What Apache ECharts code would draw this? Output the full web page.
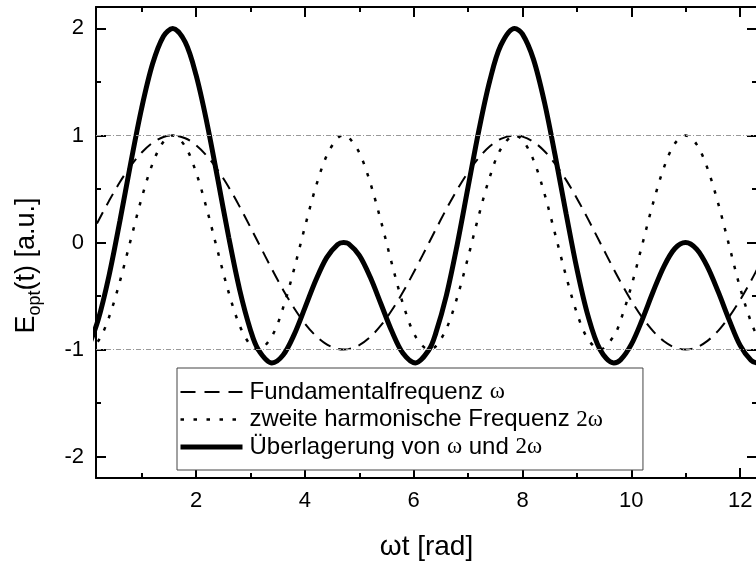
<!DOCTYPE html>
<html>
<head>
<meta charset="utf-8">
<script src="https://cdn.jsdelivr.net/npm/echarts@6/dist/echarts.min.js"></script>
<style>
html,body{margin:0;padding:0;background:#fff;}
#chart{width:756px;height:562px;}
</style>
</head>
<body>
<div id="chart"></div>
<script>
const xValues = [0,0.2,0.4,0.6,0.8,1.0,1.2,1.4,1.571,1.8,2.0,2.2,2.4,2.6,2.8,3.0,3.142,3.394,3.6,3.8,4.0,4.2,4.4,4.6,4.712,4.8,5.0,5.2,5.4,5.6,5.8,6.030,6.283,6.4,6.6,6.8,7.0,7.2,7.4,7.6,7.854,8.0,8.2,8.4,8.6,8.8,9.0,9.2,9.425,9.677,9.8,10.0,10.2,10.4,10.6,10.8,10.996,11.2,11.4,11.6,11.8,12.0,12.2,12.313,12.4,12.6];
// Fundamentalfrequenz ω (dashed)
const fundamental = [0,0.199,0.389,0.565,0.717,0.841,0.932,0.985,1.000,0.974,0.909,0.808,0.675,0.516,0.335,0.141,0.000,-0.250,-0.443,-0.612,-0.757,-0.872,-0.952,-0.994,-1.000,-0.996,-0.959,-0.883,-0.773,-0.631,-0.465,-0.250,0.000,0.117,0.312,0.494,0.657,0.794,0.899,0.968,1.000,0.989,0.941,0.855,0.734,0.585,0.412,0.223,0.000,-0.250,-0.366,-0.544,-0.700,-0.828,-0.923,-0.981,-1.000,-0.979,-0.919,-0.823,-0.693,-0.537,-0.358,-0.250,-0.166,0.034];
// zweite harmonische Frequenz 2ω (dotted)
const harmonic = [-1.000,-0.921,-0.697,-0.362,0.029,0.416,0.737,0.942,1.000,0.897,0.654,0.307,-0.087,-0.468,-0.776,-0.960,-1.000,-0.875,-0.608,-0.251,0.146,0.519,0.811,0.975,1.000,0.985,0.839,0.560,0.196,-0.201,-0.568,-0.875,-1.000,-0.973,-0.807,-0.512,-0.137,0.260,0.615,0.873,1.000,0.958,0.772,0.462,0.078,-0.313,-0.660,-0.901,-1.000,-0.875,-0.732,-0.408,-0.021,0.368,0.701,0.925,1.000,0.917,0.692,0.359,-0.032,-0.424,-0.743,-0.875,-0.946,-0.999];
// Überlagerung von ω und 2ω (thick solid)
const superposition = [-1.000,-0.722,-0.308,0.203,0.746,1.257,1.669,1.927,2.000,1.871,1.563,1.115,0.588,0.048,-0.441,-0.819,-1.000,-1.125,-1.051,-0.863,-0.611,-0.353,-0.141,-0.019,0.000,-0.011,-0.120,-0.323,-0.577,-0.832,-1.033,-1.125,-1.000,-0.856,-0.495,-0.018,0.520,1.054,1.514,1.841,2.000,1.947,1.713,1.317,0.812,0.272,-0.248,-0.678,-1.000,-1.125,-1.098,-0.952,-0.721,-0.460,-0.222,-0.056,0.000,-0.062,-0.227,-0.464,-0.725,-0.961,-1.101,-1.125,-1.112,-0.965];

const seriesNames = ['Fundamentalfrequenz ω','zweite harmonische Frequenz 2ω','Überlagerung von ω und 2ω'];
const xMajorTicks = [2,4,6,8,10,12];
const xMinorTicks = [1,3,5,7,9,11];
const yMajorTicks = [-2,-1,0,1,2];
const yMinorTicks = [-1.5,-0.5,0.5,1.5];
const refLines = [1,-1];
const X_MIN = 0.16, X_MAX = 12.31, Y_MIN = -2.2, Y_MAX = 2.2;

const FONT = '"Liberation Sans", Arial, sans-serif';
const SERIF = '"Liberation Serif", "Times New Roman", serif';

const styles = [
  {width:2, type:[13,8], legendType:[15,9]},
  {width:2.5, type:[3.5,9.5], legendType:[3.5,9.5]},
  {width:5, type:'solid', legendType:'solid'}
];

function pairs(arr){ return xValues.map((x,i)=>[x,arr[i]]); }

function xAxis(pos, ticks, len, main){
  return {
    type:'value', position:pos, min:X_MIN, max:X_MAX,
    axisLine:{show:main, onZero:false, lineStyle:{color:'#000',width:2}},
    axisTick:{show:true, inside:true, length:len, customValues:ticks, lineStyle:{color:'#000',width:2}},
    axisLabel:{show:main && pos==='bottom', customValues:ticks, fontSize:22, fontFamily:FONT, color:'#000', margin:12},
    splitLine:{show:false},
    name: (main && pos==='bottom') ? 'ωt [rad]' : '',
    nameLocation:'middle', nameGap:55,
    nameTextStyle:{fontSize:28, fontFamily:FONT, color:'#000'}
  };
}
function yAxis(pos, ticks, len, main){
  return {
    type:'value', position:pos, min:Y_MIN, max:Y_MAX,
    axisLine:{show:main, onZero:false, lineStyle:{color:'#000',width:2}},
    axisTick:{show:true, inside:true, length:len, customValues:ticks, lineStyle:{color:'#000',width:2}},
    axisLabel:{show:main && pos==='left', customValues:ticks, fontSize:22, fontFamily:FONT, color:'#000', margin:12},
    splitLine:{show:false},
    name: (main && pos==='left') ? '{e|E}{s|opt}{e|(t) [a.u.]}' : '',
    nameLocation:'middle', nameGap:52, nameRotate:90,
    nameTextStyle:{
      fontSize:27, fontFamily:FONT, color:'#000', padding:[0,46,0,0],
      rich:{
        e:{fontSize:27, fontFamily:FONT, color:'#000'},
        s:{fontSize:18, fontFamily:FONT, color:'#000', padding:[16,0,0,0]}
      }
    }
  };
}

const chart = echarts.init(document.getElementById('chart'), null, {renderer:'canvas'});
chart.setOption({
  animation:false,
  backgroundColor:'#fff',
  grid:{left:96, top:7, width:661, height:471, outerBoundsMode:'none', containLabel:false},
  xAxis:[
    xAxis('bottom', xMajorTicks, 10, true),
    xAxis('bottom', xMinorTicks, 5, false),
    xAxis('top', xMajorTicks, 10, true),
    xAxis('top', xMinorTicks, 5, false)
  ],
  yAxis:[
    yAxis('left', yMajorTicks, 10, true),
    yAxis('left', yMinorTicks, 5, false),
    yAxis('right', yMajorTicks, 10, true),
    yAxis('right', yMinorTicks, 5, false)
  ],
  legend:{
    orient:'vertical', left:177, top:368,
    padding:[12,40,11,1], itemGap:3.5,
    itemWidth:62, itemHeight:14,
    backgroundColor:'#fff', borderColor:'#444', borderWidth:1,
    itemStyle:{opacity:0, borderWidth:0},
    data:seriesNames.map((n,i)=>({name:n, lineStyle:{width:styles[i].width, type:styles[i].legendType, color:'#000'}})),
    formatter:function(name){
      const i = seriesNames.indexOf(name);
      if(i===0) return '{t|Fundamentalfrequenz }{g|ω}';
      if(i===1) return '{t|zweite harmonische Frequenz }{g|2ω}';
      return '{t|Überlagerung von }{g|ω}{t| und }{g|2ω}';
    },
    textStyle:{
      color:'#000', fontSize:24, fontFamily:FONT, padding:[0,0,0,2],
      rich:{
        t:{fontSize:24, fontFamily:FONT, color:'#000'},
        g:{fontSize:23, fontFamily:SERIF, color:'#000'}
      }
    }
  },
  series:[
    {
      name:seriesNames[0], type:'line', data:pairs(fundamental), smooth:0.33, symbol:'none',
      lineStyle:{color:'#000', width:styles[0].width, type:styles[0].type},
      itemStyle:{color:'#000'},
      markLine:{
        silent:true, symbol:'none', label:{show:false},
        lineStyle:{color:'#999', width:1, type:[5,2,1,2]},
        data:refLines.map(v=>({yAxis:v}))
      },
      z:3
    },
    {
      name:seriesNames[1], type:'line', data:pairs(harmonic), smooth:0.33, symbol:'none',
      lineStyle:{color:'#000', width:styles[1].width, type:styles[1].type},
      itemStyle:{color:'#000'},
      z:3
    },
    {
      name:seriesNames[2], type:'line', data:pairs(superposition), smooth:0.33, symbol:'none',
      lineStyle:{color:'#000', width:styles[2].width, type:styles[2].type},
      itemStyle:{color:'#000'},
      z:4
    }
  ]
});
</script>
</body>
</html>
